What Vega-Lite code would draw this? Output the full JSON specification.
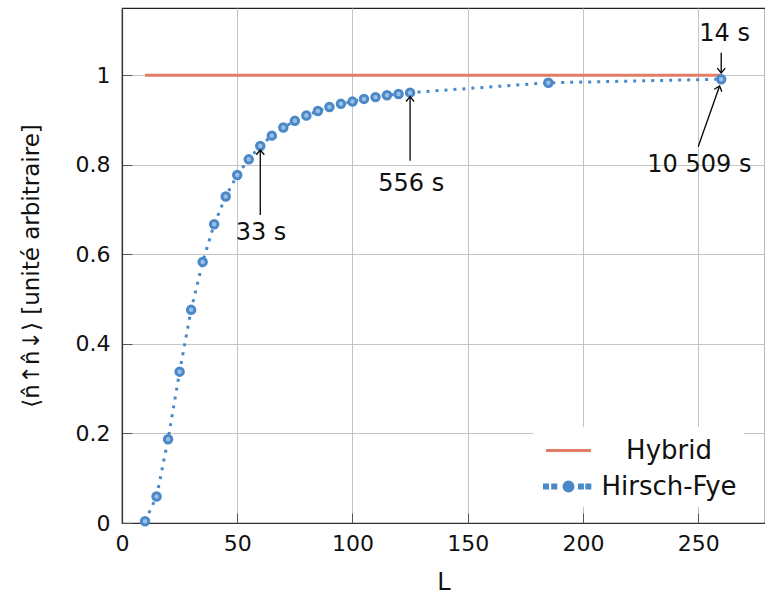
{
  "$schema": "https://vega.github.io/schema/vega-lite/v6.json",
  "width": 643,
  "height": 515,
  "autosize": {"type": "none"},
  "padding": {"left": 122, "top": 8, "right": 0, "bottom": 78},
  "background": "white",
  "config": {
    "font": "DejaVu Sans",
    "view": {"stroke": "#222", "strokeWidth": 1.2},
    "axis": {
      "grid": true,
      "gridColor": "#c4c4c4",
      "gridWidth": 1,
      "domainColor": "#333",
      "domainWidth": 1.2,
      "tickColor": "#555",
      "tickSize": -10,
      "tickWidth": 1,
      "labelFontSize": 22,
      "labelColor": "#111",
      "labelFont": "DejaVu Sans",
      "titleFont": "DejaVu Sans",
      "titleFontSize": 24,
      "titleFontWeight": "normal",
      "titleColor": "#111"
    }
  },
  "datasets": {
    "hf": [
      {"L": 10, "v": 0.004, "method": "Hirsch-Fye"},
      {"L": 15, "v": 0.059, "method": "Hirsch-Fye"},
      {"L": 20, "v": 0.187, "method": "Hirsch-Fye"},
      {"L": 25, "v": 0.338, "method": "Hirsch-Fye"},
      {"L": 30, "v": 0.476, "method": "Hirsch-Fye"},
      {"L": 35, "v": 0.583, "method": "Hirsch-Fye"},
      {"L": 40, "v": 0.667, "method": "Hirsch-Fye"},
      {"L": 45, "v": 0.729, "method": "Hirsch-Fye"},
      {"L": 50, "v": 0.777, "method": "Hirsch-Fye"},
      {"L": 55, "v": 0.812, "method": "Hirsch-Fye"},
      {"L": 60, "v": 0.842, "method": "Hirsch-Fye"},
      {"L": 65, "v": 0.865, "method": "Hirsch-Fye"},
      {"L": 70, "v": 0.883, "method": "Hirsch-Fye"},
      {"L": 75, "v": 0.898, "method": "Hirsch-Fye"},
      {"L": 80, "v": 0.910, "method": "Hirsch-Fye"},
      {"L": 85, "v": 0.920, "method": "Hirsch-Fye"},
      {"L": 90, "v": 0.929, "method": "Hirsch-Fye"},
      {"L": 95, "v": 0.936, "method": "Hirsch-Fye"},
      {"L": 100, "v": 0.941, "method": "Hirsch-Fye"},
      {"L": 105, "v": 0.947, "method": "Hirsch-Fye"},
      {"L": 110, "v": 0.951, "method": "Hirsch-Fye"},
      {"L": 115, "v": 0.955, "method": "Hirsch-Fye"},
      {"L": 120, "v": 0.958, "method": "Hirsch-Fye"},
      {"L": 125, "v": 0.961, "method": "Hirsch-Fye"},
      {"L": 185, "v": 0.983, "method": "Hirsch-Fye"},
      {"L": 260, "v": 0.991, "method": "Hirsch-Fye"}
    ],
    "hy": [
      {"L": 10, "v": 1, "method": "Hybrid"},
      {"L": 260, "v": 1, "method": "Hybrid"}
    ],
    "ann": [
      {"label": "33 s", "textL": 60.3, "textV": 0.648, "fromL": 60, "fromV": 0.688, "tipL": 60, "tipV": 0.833, "dir": "up"},
      {"label": "556 s", "textL": 125.5, "textV": 0.757, "fromL": 125, "fromV": 0.809, "tipL": 125, "tipV": 0.952, "dir": "up"},
      {"label": "14 s", "textL": 261.5, "textV": 1.092, "fromL": 260, "fromV": 1.05, "tipL": 260, "tipV": 1.005, "dir": "down"},
      {"label": "10 509 s", "textL": 250.5, "textV": 0.8, "fromL": 250, "fromV": 0.84, "tipL": 259.3, "tipV": 0.976, "dir": "diag"}
    ]
  },
  "layer": [
    {
      "data": {"name": "hy"},
      "mark": {"type": "line", "strokeWidth": 3},
      "encoding": {
        "x": {"field": "L", "type": "quantitative", "title": "L",
          "scale": {"domain": [0, 279], "nice": false, "zero": false},
          "axis": {"values": [0, 50, 100, 150, 200, 250], "format": "d", "labelFlush": false, "labelPadding": 20, "titlePadding": 16}},
        "y": {"field": "v", "type": "quantitative", "title": "⟨n̂↑n̂↓⟩ [unité arbitraire]",
          "scale": {"domain": [0, 1.15], "nice": false},
          "axis": {"values": [0, 0.2, 0.4, 0.6, 0.8, 1], "format": ".1~f", "labelPadding": 22, "titlePadding": 32, "titleFontSize": 23}},
        "color": {"field": "method", "type": "nominal",
          "scale": {"domain": ["Hybrid", "Hirsch-Fye"], "range": ["#e17d64", "#4a89c8"]},
          "legend": {
            "title": null,
            "orient": "none",
            "legendX": 411,
            "legendY": 419,
            "fillColor": "white",
            "padding": 7,
            "symbolSize": 900,
            "rowPadding": 6,
            "labelFontSize": 26,
            "labelFont": "DejaVu Sans",
            "labelColor": "#111",
            "labelAlign": "center",
            "labelOffset": 96,
            "encode": {
              "symbols": {
                "update": {
                  "shape": {"signal": "datum.value === 'Hybrid' ? 'M-0.7,0L2.3,0' : 'M-0.8,-0.1h0.2v0.2h-0.2z M-0.25,-0.1h0.2v0.2h-0.2z M1.53,-0.1h0.2v0.2h-0.2z M2.02,-0.1h0.2v0.2h-0.2z M1.1,0 A0.3,0.3 0 1,0 0.5,0 A0.3,0.3 0 1,0 1.1,0z'"},
                  "fill": {"signal": "datum.value === 'Hybrid' ? 'transparent' : '#4a89c8'"},
                  "stroke": {"signal": "datum.value === 'Hybrid' ? '#e17d64' : 'transparent'"},
                  "strokeWidth": {"value": 3},
                  "strokeDash": {"value": []},
                  "size": {"value": 900},
                  "opacity": {"value": 1}
                }
              }
            }
          }
        }
      }
    },
    {
      "data": {"name": "hf"},
      "mark": {"type": "line", "strokeWidth": 3, "strokeDash": [3, 6], "strokeCap": "butt"},
      "encoding": {
        "x": {"field": "L", "type": "quantitative", "title": "L"},
        "y": {"field": "v", "type": "quantitative", "title": "⟨n̂↑n̂↓⟩ [unité arbitraire]"},
        "color": {"field": "method", "type": "nominal"}
      }
    },
    {
      "data": {"name": "hf"},
      "mark": {"type": "point", "filled": false, "size": 56, "stroke": "#4a89c8", "strokeWidth": 3, "fill": "#9dbfe6", "fillOpacity": 1, "opacity": 1},
      "encoding": {
        "x": {"field": "L", "type": "quantitative", "title": "L"},
        "y": {"field": "v", "type": "quantitative", "title": "⟨n̂↑n̂↓⟩ [unité arbitraire]"}
      }
    },
    {
      "data": {"name": "ann"},
      "mark": {"type": "rule", "color": "#000", "strokeWidth": 1.3},
      "encoding": {
        "x": {"field": "fromL", "type": "quantitative", "title": "L"},
        "y": {"field": "fromV", "type": "quantitative", "title": "⟨n̂↑n̂↓⟩ [unité arbitraire]"},
        "x2": {"field": "tipL"},
        "y2": {"field": "tipV"}
      }
    },
    {
      "data": {"name": "ann"},
      "transform": [{"filter": "datum.dir === 'up'"}],
      "mark": {"type": "point", "shape": "M-1,1.2L0,0L1,1.2", "size": 64, "filled": false, "stroke": "#000", "strokeWidth": 1.3, "angle": 0, "opacity": 1},
      "encoding": {
        "x": {"field": "tipL", "type": "quantitative", "title": "L"},
        "y": {"field": "tipV", "type": "quantitative", "title": "⟨n̂↑n̂↓⟩ [unité arbitraire]"}
      }
    },
    {
      "data": {"name": "ann"},
      "transform": [{"filter": "datum.dir === 'down'"}],
      "mark": {"type": "point", "shape": "M-1,1.2L0,0L1,1.2", "size": 64, "filled": false, "stroke": "#000", "strokeWidth": 1.3, "angle": 180, "opacity": 1},
      "encoding": {
        "x": {"field": "tipL", "type": "quantitative", "title": "L"},
        "y": {"field": "tipV", "type": "quantitative", "title": "⟨n̂↑n̂↓⟩ [unité arbitraire]"}
      }
    },
    {
      "data": {"name": "ann"},
      "transform": [{"filter": "datum.dir === 'diag'"}],
      "mark": {"type": "point", "shape": "M-1,1.2L0,0L1,1.2", "size": 64, "filled": false, "stroke": "#000", "strokeWidth": 1.3, "angle": 18.6, "opacity": 1},
      "encoding": {
        "x": {"field": "tipL", "type": "quantitative", "title": "L"},
        "y": {"field": "tipV", "type": "quantitative", "title": "⟨n̂↑n̂↓⟩ [unité arbitraire]"}
      }
    },
    {
      "data": {"name": "ann"},
      "mark": {"type": "text", "fontSize": 24, "font": "DejaVu Sans", "color": "#111", "align": "center", "baseline": "middle"},
      "encoding": {
        "x": {"field": "textL", "type": "quantitative", "title": "L"},
        "y": {"field": "textV", "type": "quantitative", "title": "⟨n̂↑n̂↓⟩ [unité arbitraire]"},
        "text": {"field": "label"}
      }
    }
  ]
}
